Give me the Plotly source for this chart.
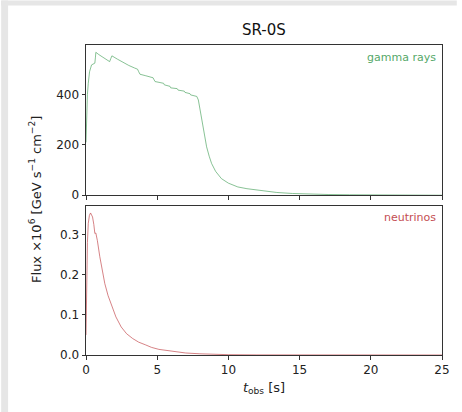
import plotly.graph_objects as go

# gamma rays (flux x1e6)
t_gamma = [0.0, 0.05, 0.1, 0.16, 0.25, 0.39, 0.5, 0.62, 0.66, 0.69, 0.9, 1.2, 1.5, 1.66, 1.74, 1.82,
           2.2, 2.6, 3.0, 3.4, 3.62, 3.70, 3.79, 4.2, 4.71, 4.78, 4.85, 5.2, 5.45, 5.5, 5.9, 5.95,
           6.4, 6.47, 6.9, 6.95, 7.3, 7.35, 7.78, 7.89, 8.0, 8.12, 8.3, 8.47, 8.65, 8.82, 9.1,
           9.51, 10.0, 10.66, 11.3, 12.05, 13.4, 14.5, 15.5, 17.0, 18.5, 20.0, 21.5, 23.0, 25.0]
f_gamma = [210, 330, 400, 444, 490, 517, 522, 524, 545, 567, 558, 548, 537, 530, 542, 553,
           540, 527, 515, 505, 500, 490, 480, 474, 466, 458, 451, 447, 444, 438, 432, 426,
           423, 417, 413, 408, 403, 398, 392, 378, 345, 298, 240, 192, 155, 126, 95,
           66, 48, 33, 26, 20, 11, 7, 5, 3, 2, 1, 0.6, 0.3, 0.1]

# neutrinos (flux x1e6)
t_nu = [0.0, 0.05, 0.1, 0.16, 0.24, 0.32, 0.4, 0.46, 0.55, 0.62, 0.69, 0.8, 0.97, 1.15, 1.32,
        1.55, 1.78, 2.1, 2.47, 2.85, 3.28, 3.7, 4.2, 4.6, 5.12, 6.0, 7.0, 8.0, 9.0, 10.0,
        12.0, 15.0, 20.0, 25.0]
f_nu = [0.05, 0.2, 0.28, 0.328, 0.348, 0.354, 0.350, 0.344, 0.325, 0.303, 0.304, 0.285, 0.245,
        0.208, 0.178, 0.148, 0.124, 0.095, 0.070, 0.053, 0.041, 0.032, 0.025, 0.019, 0.014,
        0.009, 0.005, 0.003, 0.0015, 0.0008, 0.0003, 0.0001, 0.0, 0.0]

x_ticks = [0, 5, 10, 15, 20, 25]

W, H = 462, 412
L, R, T, B = 86, 15, 44.5, 57
ph = H - T - B
pw = W - L - R

def py(y):
    return (H - B - y) / ph

def px(x):
    return (x - L) / pw

font = "DejaVu Sans, sans-serif"
axcol = "#333333"

fig = go.Figure()
fig.add_trace(go.Scatter(x=t_gamma, y=f_gamma, mode="lines",
                         line=dict(color="rgba(85,168,104,0.7)", width=1),
                         xaxis="x", yaxis="y", showlegend=False))
fig.add_trace(go.Scatter(x=t_nu, y=f_nu, mode="lines",
                         line=dict(color="rgba(196,78,82,0.7)", width=1),
                         xaxis="x2", yaxis="y2", showlegend=False))

common_ax = dict(showline=True, mirror=True, linecolor=axcol, linewidth=1,
                 ticks="outside", ticklen=3.5, tickcolor=axcol, tickwidth=1,
                 showgrid=False, zeroline=False,
                 tickfont=dict(family=font, size=12, color="#222"))

fig.update_layout(
    width=W, height=H, autosize=False,
    margin=dict(l=L, r=R, t=T, b=B),
    paper_bgcolor="white", plot_bgcolor="white",
    font=dict(family=font, color="#222"),
    xaxis=dict(domain=[0, 1], anchor="y", range=[0, 25], tickvals=x_ticks,
               showticklabels=False, matches="x2", **common_ax),
    yaxis=dict(domain=[py(195), 1], anchor="x", range=[0, 596],
               tickvals=[0, 200, 400], **common_ax),
    xaxis2=dict(domain=[0, 1], anchor="y2", range=[0, 25], tickvals=x_ticks,
                title=dict(text="<i>t</i><sub>obs</sub> [s]", font=dict(family=font, size=13),
                           standoff=6), **common_ax),
    yaxis2=dict(domain=[0, py(205.5)], anchor="x2", range=[0, 0.372],
                tickvals=[0, 0.1, 0.2, 0.3], tickformat=".1f", **common_ax),
)

fig.add_annotation(text="SR-0S", xref="paper", yref="paper", x=0.5, y=py(29),
                   showarrow=False, font=dict(family=font, size=15, color="#111"),
                   xanchor="center", yanchor="middle")
fig.add_annotation(text="Flux ×10<sup>6</sup> [GeV s<sup>−1</sup> cm<sup>−2</sup>]",
                   xref="paper", yref="paper", x=px(35), y=py(199), textangle=-90,
                   showarrow=False, font=dict(family=font, size=13, color="#222"),
                   xanchor="center", yanchor="middle")
fig.add_annotation(text="gamma rays", xref="paper", yref="paper", x=px(443), y=py(57),
                   showarrow=False, font=dict(family=font, size=11, color="#55a868"),
                   xanchor="right", yanchor="middle")
fig.add_annotation(text="neutrinos", xref="paper", yref="paper", x=px(443), y=py(217),
                   showarrow=False, font=dict(family=font, size=11, color="#c44e52"),
                   xanchor="right", yanchor="middle")

# light grey page border (left and top)
fig.add_shape(type="rect", xref="paper", yref="paper", x0=px(0), x1=px(7), y0=py(H), y1=py(0),
              fillcolor="#e6e6e6", line=dict(width=0), layer="below")
fig.add_shape(type="rect", xref="paper", yref="paper", x0=px(0), x1=px(W), y0=py(5), y1=py(0),
              fillcolor="#e6e6e6", line=dict(width=0), layer="below")

fig.write_html("out.html", config={"displayModeBar": False},
               post_script="document.body.style.margin='0';document.body.style.overflow='hidden';")
